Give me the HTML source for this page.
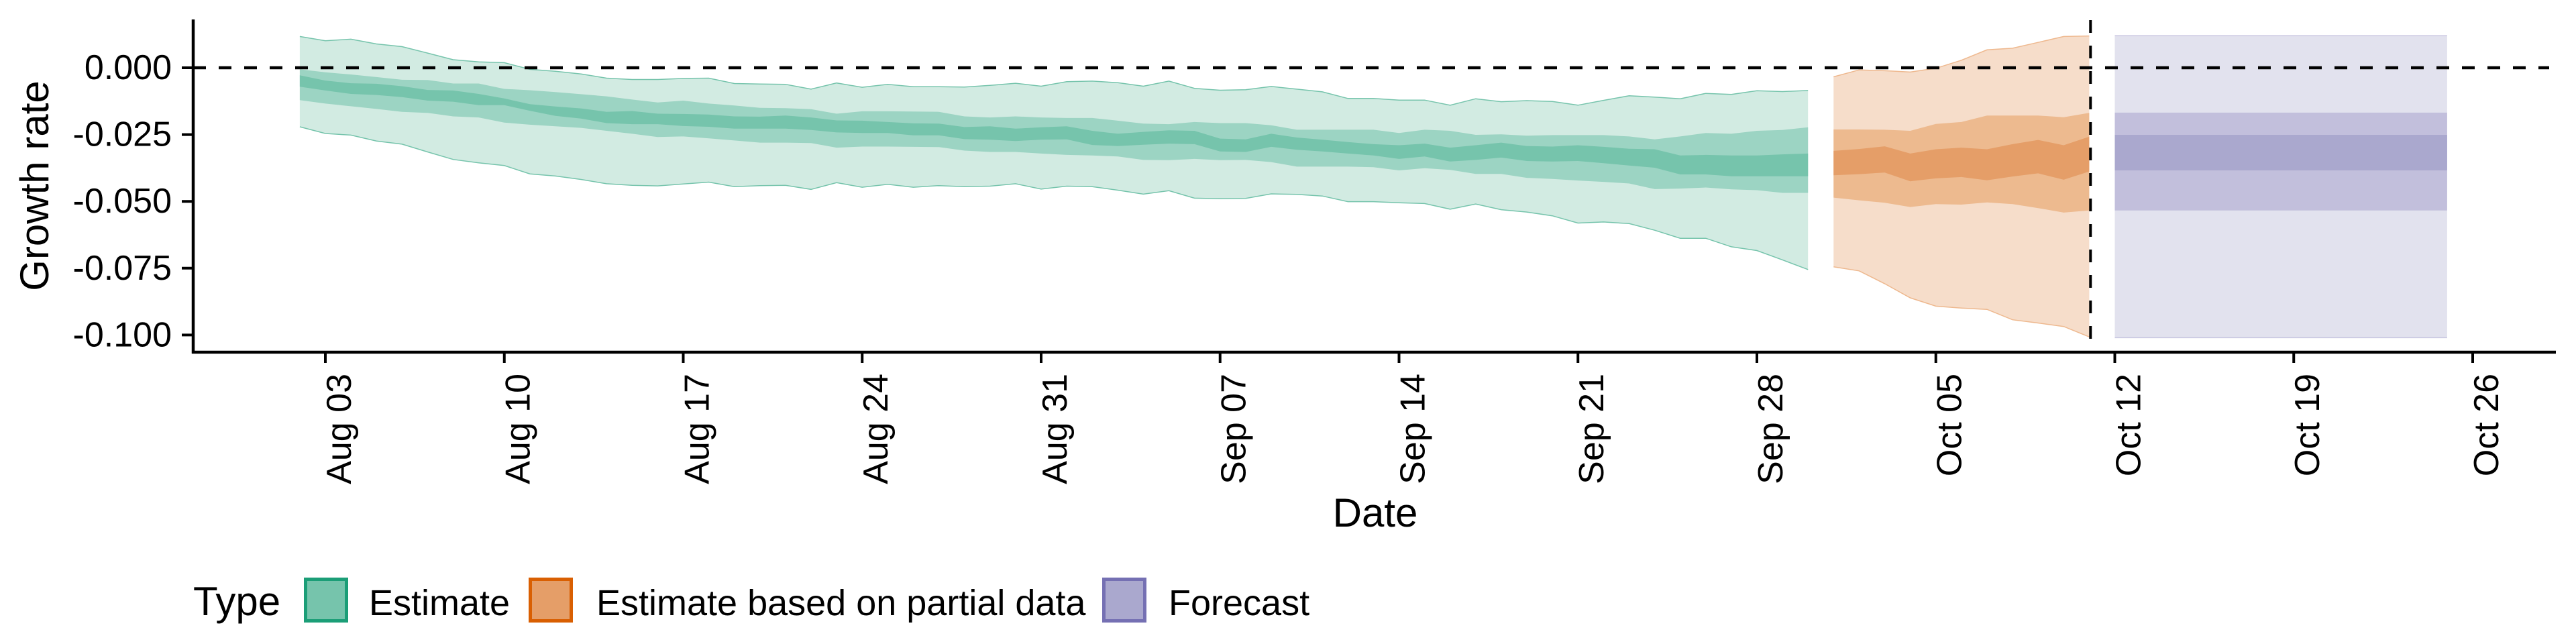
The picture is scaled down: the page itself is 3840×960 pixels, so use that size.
<!DOCTYPE html>
<html><head><meta charset="utf-8">
<style>
html,body{margin:0;padding:0;background:#fff;}
svg{display:block;font-family:"Liberation Sans",Arial,sans-serif;}
</style></head>
<body>
<svg id="chart" width="3840" height="960" viewBox="0 0 3840 960" xmlns="http://www.w3.org/2000/svg">
  <g id="bands"></g>
  <g id="axes"></g>
  <g id="legend"></g>
</svg>
<script>
// ---- data (growth rate values in units of 0.001) ----
const estStartDay = -1; // days relative to Aug 03
const estOuterHi = [11.7,10.1,10.7,8.9,7.9,5.5,3.0,2.2,1.9,-0.6,-1.3,-2.3,-3.9,-4.4,-4.4,-4.0,-3.9,-5.9,-6.1,-6.2,-8.0,-5.7,-7.3,-6.2,-7.1,-7.1,-7.2,-6.6,-5.8,-6.9,-5.2,-5.0,-5.6,-6.9,-5.0,-7.7,-8.4,-8.2,-7.0,-8.0,-9.0,-11.5,-11.5,-12.1,-12.1,-14.0,-11.6,-12.7,-12.3,-12.6,-14.0,-12.2,-10.5,-11.0,-11.6,-9.6,-10.0,-8.6,-8.9,-8.5];
const estOuterLo = [-22.1,-24.6,-25.2,-27.4,-28.6,-31.5,-34.3,-35.6,-36.6,-39.7,-40.5,-41.8,-43.4,-44.0,-44.2,-43.5,-42.8,-44.5,-44.1,-44.0,-45.5,-43.0,-44.7,-43.6,-44.7,-44.1,-44.5,-44.3,-43.4,-45.4,-44.3,-44.5,-45.8,-47.3,-46.0,-48.8,-49.0,-48.9,-47.2,-47.4,-48.0,-50.1,-50.1,-50.5,-50.8,-52.9,-51.0,-53.1,-54.0,-55.4,-58.1,-57.7,-58.3,-60.8,-63.8,-63.8,-67.0,-68.4,-71.9,-75.5];
const estMidHi = [-0.6,-1.7,-2.5,-3.5,-4.5,-4.6,-5.9,-5.9,-7.9,-8.4,-9.1,-9.9,-10.7,-11.9,-13.0,-12.3,-13.4,-14.1,-15.0,-15.1,-15.5,-17.2,-16.3,-16.3,-16.4,-16.5,-18.2,-18.6,-18.2,-18.6,-18.8,-18.8,-19.8,-20.9,-21.1,-20.3,-20.7,-20.7,-21.5,-23.2,-23.2,-23.2,-23.2,-24.4,-23.2,-23.6,-25.1,-24.9,-25.4,-25.2,-25.2,-25.2,-25.7,-26.8,-25.7,-24.4,-24.7,-23.6,-23.3,-22.3];
const estMidLo = [-12.1,-13.4,-14.4,-15.4,-16.5,-16.9,-18.2,-18.6,-20.5,-21.3,-21.9,-22.5,-23.6,-24.7,-25.9,-25.7,-26.4,-27.2,-28.0,-28.0,-28.2,-29.9,-29.5,-29.5,-29.6,-29.7,-31.0,-31.5,-31.5,-32.1,-32.6,-32.8,-33.2,-34.5,-34.6,-34.1,-34.6,-34.5,-35.3,-37.0,-37.0,-37.0,-37.2,-38.4,-37.6,-38.2,-39.7,-39.7,-41.2,-41.6,-42.2,-42.7,-43.3,-45.4,-45.2,-44.8,-45.5,-45.8,-46.8,-46.8];
const estInHi = [-2.8,-4.8,-5.8,-6.0,-6.9,-8.3,-8.5,-9.8,-11.5,-13.6,-14.5,-15.2,-16.5,-16.2,-17.2,-17.3,-17.5,-18.2,-18.3,-17.9,-18.6,-19.7,-19.8,-20.3,-20.8,-20.9,-22.2,-21.9,-22.8,-22.3,-21.9,-23.6,-24.7,-24.0,-23.4,-23.6,-26.5,-26.8,-24.7,-26.1,-26.9,-27.8,-28.6,-29.0,-28.4,-29.9,-29.0,-28.0,-29.3,-29.5,-29.0,-29.6,-30.3,-30.5,-32.8,-32.6,-32.8,-32.8,-32.4,-32.1];
const estInLo = [-7.1,-8.5,-9.8,-10.2,-11.0,-12.3,-12.7,-14.0,-14.0,-16.1,-18.0,-19.0,-20.7,-21.1,-21.1,-21.8,-22.1,-22.8,-22.8,-22.8,-23.3,-24.2,-24.4,-24.4,-25.3,-25.3,-26.7,-26.9,-27.4,-26.9,-26.8,-28.9,-29.3,-28.8,-28.4,-28.6,-31.3,-31.5,-29.6,-30.7,-31.3,-32.1,-32.8,-34.1,-33.2,-35.1,-34.5,-33.6,-34.9,-35.1,-34.9,-35.7,-36.6,-37.4,-39.9,-39.9,-40.6,-40.6,-40.6,-40.6];

const partStartDay = 59;
const partOuterHi = [-3.4,-0.8,-1.1,-1.6,-0.2,2.8,6.7,7.3,9.5,11.7,11.9];
const partOuterLo = [-74.5,-76.0,-80.8,-86.1,-89.2,-89.9,-90.4,-94.3,-95.5,-96.8,-100.7];
const partMidHi = [-23.1,-23.1,-23.2,-23.6,-21.0,-20.3,-17.9,-17.9,-17.9,-18.5,-16.9];
const partMidLo = [-48.6,-49.6,-50.5,-52.1,-51.0,-51.2,-50.4,-51.0,-52.5,-54.2,-53.4];
const partInHi = [-31.1,-30.4,-29.4,-32.1,-30.5,-29.9,-30.5,-28.6,-27.0,-29.0,-25.8];
const partInLo = [-40.2,-39.8,-39.2,-42.5,-41.4,-40.9,-42.1,-40.7,-39.5,-41.9,-38.8];

const fcStartDay = 70;
const fcOuterHi = [12.0,12.0,12.0,12.0,12.0,12.0,12.0,12.0,12.0,12.0,12.0,12.0,12.0,12.0];
const fcOuterLo = [-101,-101,-101,-101,-101,-101,-101,-101,-101,-101,-101,-101,-101,-101];
const fcMidHi = [-16.8,-16.8,-16.8,-16.8,-16.8,-16.8,-16.8,-16.8,-16.8,-16.8,-16.8,-16.8,-16.8,-16.8];
const fcMidLo = [-53.4,-53.4,-53.4,-53.4,-53.4,-53.4,-53.4,-53.4,-53.4,-53.4,-53.4,-53.4,-53.4,-53.4];
const fcInHi = [-25.1,-25.1,-25.1,-25.1,-25.1,-25.1,-25.1,-25.1,-25.1,-25.1,-25.1,-25.1,-25.1,-25.1];
const fcInLo = [-38.4,-38.4,-38.4,-38.4,-38.4,-38.4,-38.4,-38.4,-38.4,-38.4,-38.4,-38.4,-38.4,-38.4];

const yTicks = [0, -0.025, -0.05, -0.075, -0.1];
const yTickLabels = ["0.000","-0.025","-0.050","-0.075","-0.100"];
const xTickDays = [0,7,14,21,28,35,42,49,56,63,70,77,84];
const xTickLabels = ["Aug 03","Aug 10","Aug 17","Aug 24","Aug 31","Sep 07","Sep 14","Sep 21","Sep 28","Oct 05","Oct 12","Oct 19","Oct 26"];
const forecastCutDay = 69;

// ---- scales ----
const NS = "http://www.w3.org/2000/svg";
function xs(d){ return 485 + d * 38.107; }
function ys(v){ return 101 - v * 3984; }
function mk(tag, attrs, parent){ const e=document.createElementNS(NS,tag); for(const k in attrs) e.setAttribute(k,attrs[k]); parent.appendChild(e); return e; }

const bands = document.getElementById('bands');
function ribbon(start, hi, lo, fill, stroke, name){
  let pts=[];
  for(let i=0;i<hi.length;i++) pts.push(xs(start+i).toFixed(1)+','+ys(hi[i]/1000).toFixed(1));
  for(let i=lo.length-1;i>=0;i--) pts.push(xs(start+i).toFixed(1)+','+ys(lo[i]/1000).toFixed(1));
  const p = mk('polygon',{points:pts.join(' '),fill:fill},bands);
  
  
  if(stroke){
    const t=[],b=[];
    for(let i=0;i<hi.length;i++){ t.push(xs(start+i).toFixed(1)+','+ys(hi[i]/1000).toFixed(1)); b.push(xs(start+i).toFixed(1)+','+ys(lo[i]/1000).toFixed(1)); }
    const l1=mk('polyline',{points:t.join(' '),fill:'none',stroke:stroke,'stroke-width':1.5},bands);
    
    
    const l2=mk('polyline',{points:b.join(' '),fill:'none',stroke:stroke,'stroke-width':1.5},bands);
    
    
  }
}
ribbon(estStartDay, estOuterHi, estOuterLo, '#d2ebe2', '#76c4ac', 'estimate-90-band');
ribbon(estStartDay, estMidHi, estMidLo, '#9cd4c3', null, 'estimate-50-band');
ribbon(estStartDay, estInHi, estInLo, '#76c4ac', null, 'estimate-20-band');
ribbon(partStartDay, partOuterHi, partOuterLo, '#f6ddca', '#eeb88e', 'partial-90-band');
ribbon(partStartDay, partMidHi, partMidLo, '#edba8f', null, 'partial-50-band');
ribbon(partStartDay, partInHi, partInLo, '#e59e68', null, 'partial-20-band');
ribbon(fcStartDay, fcOuterHi, fcOuterLo, '#e2e2ee', '#c8c6e0', 'forecast-90-band');
ribbon(fcStartDay, fcMidHi, fcMidLo, '#c2bfdc', null, 'forecast-50-band');
ribbon(fcStartDay, fcInHi, fcInLo, '#aaa8ce', null, 'forecast-20-band');

// ---- axes ----
const ax = document.getElementById('axes');
const zl = mk('line',{x1:288,x2:3800,y1:ys(0),y2:ys(0),stroke:'#000','stroke-width':4.5,'stroke-dasharray':'19 19'},ax);


const vl = mk('line',{x1:xs(forecastCutDay+0.05),x2:xs(forecastCutDay+0.05),y1:30,y2:525,stroke:'#000','stroke-width':4,'stroke-dasharray':'19 19'},ax);


const yaxis = mk('line',{x1:288,x2:288,y1:29,y2:527,stroke:'#000','stroke-width':4.5},ax);


const xaxis = mk('line',{x1:286,x2:3810,y1:525,y2:525,stroke:'#000','stroke-width':4.5},ax);


for(let i=0;i<yTicks.length;i++){
  const y=ys(yTicks[i]);
  const t=mk('line',{x1:271,x2:288,y1:y,y2:y,stroke:'#000','stroke-width':4},ax);
  
  
  const l=mk('text',{x:256,y:y,'font-size':52,'text-anchor':'end','dominant-baseline':'central',fill:'#000'},ax);
  l.textContent=yTickLabels[i];
  
  
}
for(let i=0;i<xTickDays.length;i++){
  const x=xs(xTickDays[i]);
  const t=mk('line',{x1:x,x2:x,y1:525,y2:541,stroke:'#000','stroke-width':4},ax);
  
  
  const l=mk('text',{transform:'translate('+(x+21)+',557) rotate(-90)','font-size':52,'text-anchor':'end','dominant-baseline':'central',fill:'#000'},ax);
  l.textContent=xTickLabels[i];
  
  
}
const yt=mk('text',{transform:'translate(72,277) rotate(-90)','font-size':60,'text-anchor':'middle',fill:'#000'},ax);
yt.textContent='Growth rate';


const xt=mk('text',{x:2050,y:785,'font-size':60,'text-anchor':'middle',fill:'#000'},ax);
xt.textContent='Date';



// ---- legend ----
const lg=document.getElementById('legend');
const lt=mk('text',{x:288,y:917,'font-size':60,fill:'#000'},lg);
lt.textContent='Type';


const keys=[[453,'#76c4ac','#1b9e77',550,'Estimate','legend-entry-estimate'],[788,'#e59e68','#d95f02',889,'Estimate based on partial data','legend-entry-partial'],[1643,'#aaa8ce','#7570b3',1742,'Forecast','legend-entry-forecast']];
for(const k of keys){
  const r=mk('rect',{x:k[0]+2.5,y:863.5,width:61,height:62,fill:k[1],stroke:k[2],'stroke-width':5},lg);
  
  
  const t=mk('text',{x:k[3],y:917,'font-size':54,fill:'#000'},lg);
  t.textContent=k[4];
  
  
}
</script>
</body></html>
